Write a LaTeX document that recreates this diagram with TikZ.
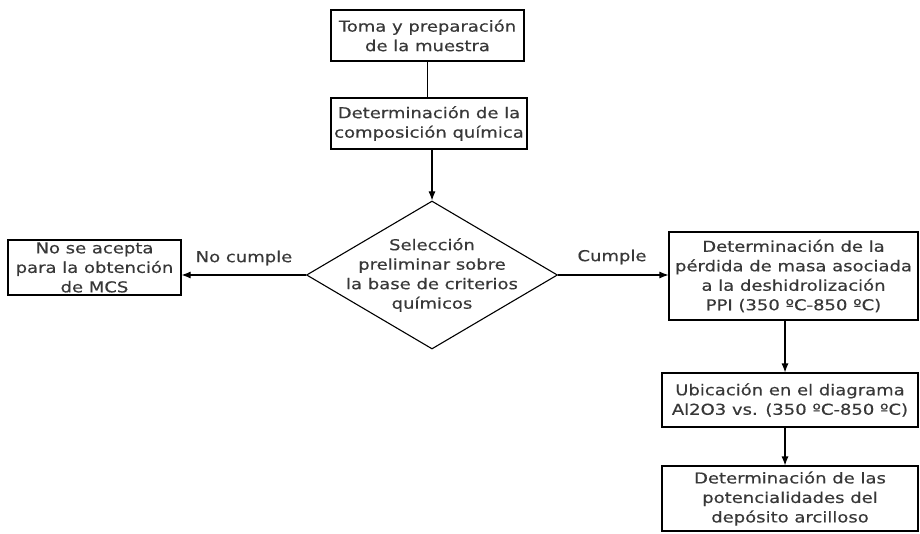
\documentclass[tikz,border=0pt]{standalone}
\usepackage{fontspec}
\setmainfont[FakeStretch=1.2,FakeBold=0.4]{DejaVu Sans}
\usetikzlibrary{arrows.meta,shapes.geometric}
\newcommand\fs{\fontsize{15}{19.5}\selectfont}
\begin{document}
\begin{tikzpicture}[x=1pt,y=-1pt,
  box/.style={draw, line width=1.1pt, inner sep=0pt, align=center, font=\fs, text=black!78},
  lbl/.style={align=center, font=\fs, text=black!78, inner sep=0pt},
  ln/.style={line width=1.1pt},
  arr/.style={line width=1.1pt, -{Latex[length=9pt,width=7pt]}}]
\useasboundingbox (0,0) rectangle (920,534);
\node[box, minimum width=193pt, minimum height=51pt] (b1) at (427.5,35.5) {Toma y preparación\\de la muestra};
\node[box, minimum width=196pt, minimum height=51pt] (b2) at (429,123.5) {Determinación de la\\composición química};
\node[diamond, draw, ln, minimum width=251pt, minimum height=148pt, inner sep=0pt] (d) at (432,275) {};
\node[lbl] (dt) at (d.center) {Selección\\preliminar sobre\\la base de criterios\\químicos};
\node[box, minimum width=173pt, minimum height=55pt] (l) at (94.5,267.5) {No se acepta\\para la obtención\\de MCS};
\node[box, minimum width=249pt, minimum height=88pt] (rb) at (793.5,276) {Determinación de la\\pérdida de masa asociada\\a la deshidrolización\\PPI (350 ºC-850 ºC)};
\node[box, minimum width=256pt, minimum height=54pt] (b3) at (790,400) {Ubicación en el diagrama\\Al2O3 vs. (350 ºC-850 ºC)};
\node[box, minimum width=256pt, minimum height=65pt] (b4) at (790,498.5) {Determinación de las\\potencialidades del\\depósito arcilloso};
\node[lbl] (nc) at (244,258) {No cumple};
\node[lbl] (c) at (612,257) {Cumple};
\coordinate (ax) at (785,0);
\draw[ln] (b1.south) -- (b1.south |- b2.north);
\draw[arr] (d.north |- b2.south) -- (d.north);
\draw[arr] (d.west) -- (d.west -| l.east);
\draw[arr] (d.east) -- (d.east -| rb.west);
\draw[arr] (ax |- rb.south) -- (ax |- b3.north);
\draw[arr] (ax |- b3.south) -- (ax |- b4.north);
\end{tikzpicture}
\end{document}
